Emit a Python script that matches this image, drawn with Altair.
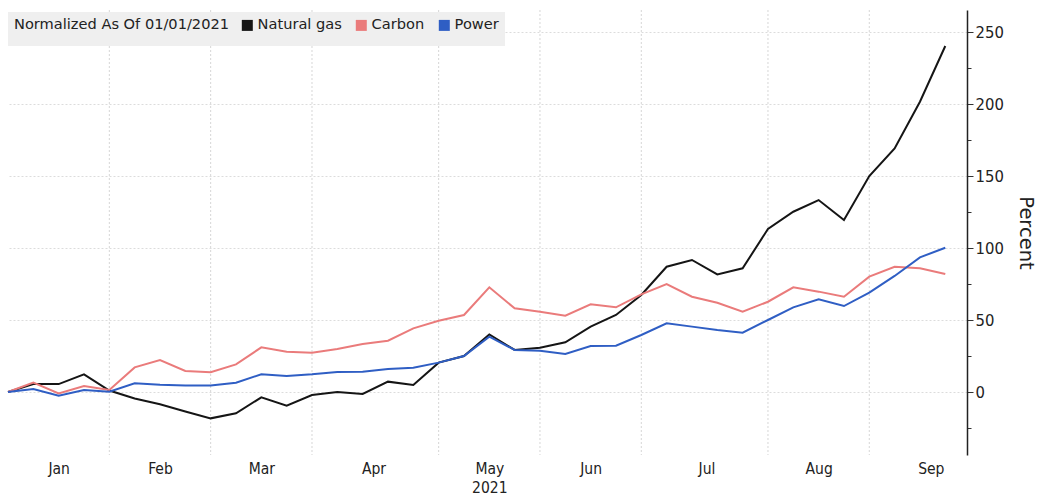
import altair as alt
import pandas as pd

# ---- data (weekly, normalized as of 01/01/2021, percent) ----
dates = [d.strftime("%Y-%m-%d") for d in pd.date_range("2021-01-01", periods=38, freq="7D")]

natural_gas = [0, 5.5, 5.5, 12.3, 1, -4.5, -8.5, -13.5, -18.3, -14.8,
               -3.7, -9.5, -2.1, 0, -1.4, 7.2, 4.9, 20.4, 25, 40,
               29.2, 30.8, 34.5, 45.4, 53.5, 67.4, 87, 91.7, 81.7, 85.9,
               113.2, 125.2, 133.3, 119.4, 150, 169.2, 201.6, 240.3]
carbon = [0, 6.5, -1, 4.2, 1.4, 17.1, 22.2, 14.6, 13.7, 19.2,
          31, 28, 27.3, 29.9, 33.3, 35.6, 44.2, 49.5, 53.5, 72.7,
          58.1, 55.8, 53, 60.9, 58.8, 67.8, 75, 66.2, 62, 55.8,
          62.7, 72.7, 69.7, 66.2, 80.1, 87, 85.9, 81.9]
power = [0, 2.1, -2.5, 1.4, 0.2, 6, 5.1, 4.6, 4.6, 6.5,
         12.3, 11.1, 12.3, 13.9, 14.1, 16, 16.9, 20.4, 25, 38.4,
         29.2, 28.7, 26.4, 31.9, 32.2, 39.6, 47.7, 45.4, 43.1, 41.2,
         50, 58.8, 64.4, 59.7, 69, 80.6, 93.5, 100.2]

series_names = ["Natural gas", "Carbon", "Power"]
series_colors = ["#151515", "#ea7b7b", "#2f5ec4"]
draw_order = {"Carbon": 0, "Power": 1, "Natural gas": 2}

# month label positions (middle of each month block) and month-end gridlines
label_dates = ["2021-01-15", "2021-02-12", "2021-03-12", "2021-04-12", "2021-05-14",
               "2021-06-11", "2021-07-13", "2021-08-13", "2021-09-13"]
grid_dates = ["2021-01-29", "2021-02-26", "2021-03-26", "2021-04-30",
              "2021-05-28", "2021-06-25", "2021-07-30", "2021-08-27"]

y_ticks = [-25, 0, 25, 50, 75, 100, 125, 150, 175, 200, 225, 250]

rows = []
for name, vals in zip(series_names, [natural_gas, carbon, power]):
    for d, v in zip(dates, vals):
        rows.append({"date": d, "series": name, "value": v, "z": draw_order[name]})
df = pd.DataFrame(rows)
grid_df = pd.DataFrame({"date": grid_dates})

FONT = "DejaVu Sans Condensed"


def dt(s):
    y, m, d = [int(p) for p in s.split("-")]
    return alt.DateTime(year=y, month=m, date=d, utc=True)


x_scale = alt.Scale(type="utc", domain=[dt("2021-01-01"), dt("2021-09-23")])
y_scale = alt.Scale(domain=[-43.75, 265.3], nice=False, zero=False)

x_axis = alt.Axis(
    values=[dt(s) for s in label_dates],
    labelExpr="utcFormat(datum.value, '%b') == 'May' ? ['May', '2021'] : utcFormat(datum.value, '%b')",
    grid=False,
    domain=False,
    ticks=False,
    labelFont=FONT,
    labelFontSize=15.5,
    labelColor="#222222",
    labelPadding=6,
    labelFlush=False,
    labelOverlap=False,
    labelLineHeight=19,
)

x_enc = alt.X("utcyearmonthdate(date):T", scale=x_scale, title=None, axis=x_axis)

grid = alt.Chart(grid_df).mark_rule(color="#d6d6d6", strokeDash=[2, 2], strokeWidth=1).encode(
    x=x_enc
)

lines = alt.Chart(df).mark_line(strokeWidth=2).encode(
    x=x_enc,
    y=alt.Y(
        "value:Q",
        scale=y_scale,
        title="Percent",
        axis=alt.Axis(
            orient="right",
            values=y_ticks,
            labelExpr="datum.value % 50 == 0 ? datum.label : ''",
            grid=True,
            gridColor="#dcdcdc",
            gridDash=[2, 2],
            gridOpacity={"condition": {"test": "datum.value % 50 == 0 && datum.value >= 0", "value": 1}, "value": 0},
            tickSize={"condition": {"test": "datum.value % 50 == 0", "value": 6}, "value": 4},
            tickColor="#333333",
            tickWidth=1,
            domainColor="#222222",
            domainWidth=1.5,
            labelFont=FONT,
            labelFontSize=16.5,
            labelColor="#222222",
            labelPadding=2,
            titleFont="DejaVu Sans",
            titleFontSize=19.5,
            titleFontWeight="normal",
            titleColor="#222222",
            titleAngle=90,
            titlePadding=12,
        ),
    ),
    order=alt.Order("z:Q"),
    color=alt.Color(
        "series:N",
        scale=alt.Scale(domain=series_names, range=series_colors),
        legend=alt.Legend(
            orient="none",
            legendX=0,
            legendY=2,
            direction="horizontal",
            title="Normalized As Of 01/01/2021",
            titleOrient="left",
            titleBaseline="alphabetic",
            titleLimit=400,
            titleFont="DejaVu Sans",
            titleFontSize=14.6,
            titleFontWeight="normal",
            titleColor="#222222",
            titlePadding=10,
            labelFont="DejaVu Sans",
            labelFontSize=14.6,
            labelColor="#222222",
            labelOffset=3,
            columnPadding=4,
            symbolType="square",
            symbolSize=25,
            symbolStrokeWidth=6,
            symbolOpacity=1,
            fillColor="#efefef",
            padding=6,
        ),
    ),
)

chart = (
    alt.layer(grid, lines)
    .properties(
        width=959,
        height=445,
        autosize=alt.AutoSizeParams(type="none"),
        padding={"left": 8, "top": 10, "right": 74, "bottom": 42},
        background="white",
    )
    .configure_view(stroke=None)
)

chart.save("out.html", embed_options={"renderer": "svg", "actions": False})
